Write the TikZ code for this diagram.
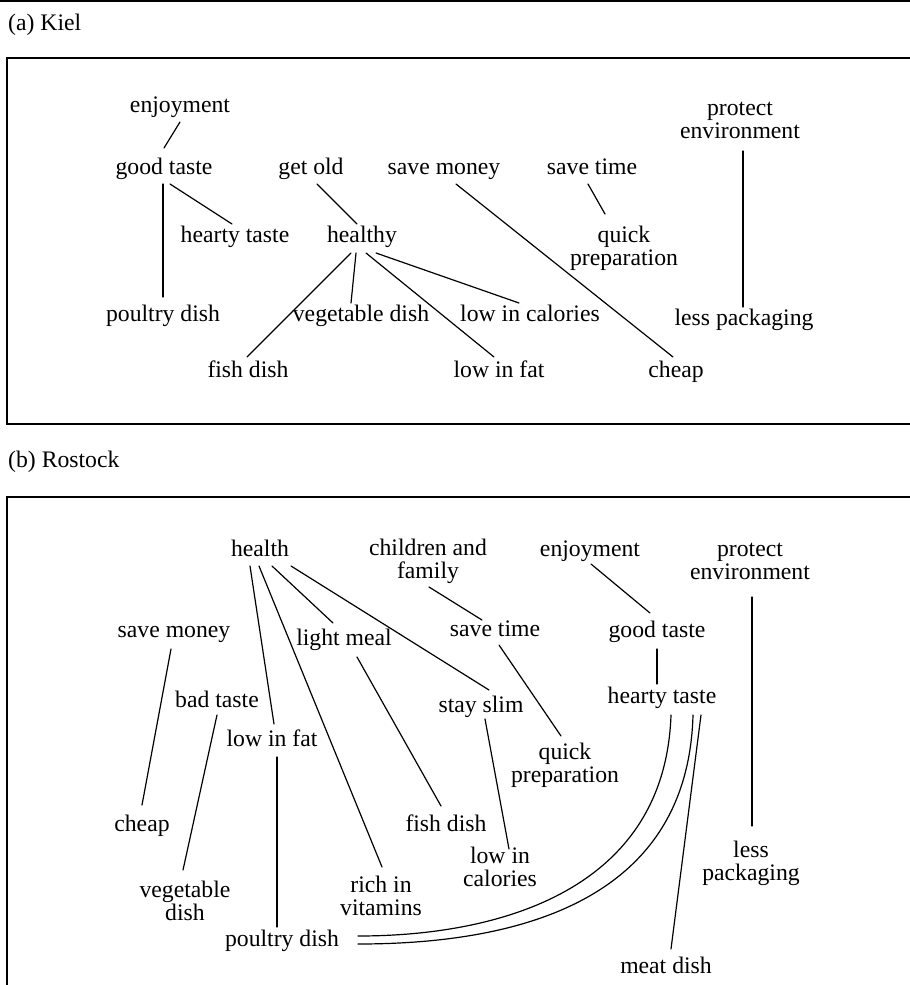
\documentclass[tikz,border=0pt]{standalone}
\usepackage{fontspec}
\setmainfont{Liberation Serif}
\usetikzlibrary{calc}
\begin{document}
\begin{tikzpicture}[x=1pt,y=-1pt,
  lbl/.style={inner sep=0pt, anchor=base, align=center,
    font=\fontsize{23.7}{23.5}\selectfont},
  link/.style={line width=1.2pt, line cap=round},
  frame/.style={line width=1.6pt}]
\useasboundingbox (0,0) rectangle (910,985);
\clip (0,0) rectangle (910,985);

% rules and frames
\draw[frame] (-5,1) -- (915,1);
\draw[frame] (915,58) -- (7,58) -- (7,424) -- (915,424);
\draw[frame] (915,497) -- (7,497) -- (7,990);

\node[lbl, anchor=base west] (capA) at (8,30) {(a) Kiel};
\node[lbl, anchor=base west] (capB) at (8,467) {(b) Rostock};

% ---------- (a) Kiel ----------
% (two-line labels are placed by the baseline of their last line)
\node[lbl] (kEnjoy)   at (180,112) {enjoyment};
\node[lbl] (kGood)    at (164,174) {good taste};
\node[lbl] (kOld)     at (311,174) {get old};
\node[lbl] (kMoney)   at (444,174) {save money};
\node[lbl] (kTime)    at (592,174) {save time};
\node[lbl] (kProtect) at (740,138.5) {protect\\environment};
\node[lbl] (kHearty)  at (235,242) {hearty taste};
\node[lbl] (kHealthy) at (362,242) {healthy};
\node[lbl] (kQuick)   at (624,265.5) {quick\\preparation};
\node[lbl] (kPoultry) at (163,321) {poultry dish};
\node[lbl] (kVeg)     at (361,321) {vegetable dish};
\node[lbl] (kCal)     at (530,321) {low in calories};
\node[lbl] (kLess)    at (744,325) {less packaging};
\node[lbl] (kFish)    at (248,377) {fish dish};
\node[lbl] (kFat)     at (499,377) {low in fat};
\node[lbl] (kCheap)   at (676,377) {cheap};

\draw[link] ($(kEnjoy.base)+(0,10)$)    -- ($(kGood.base)+(0,-26)$);
\draw[link] ($(kGood.base)+(-1,10)$)    -- ($(kPoultry.base)+(0,-24)$);
\draw[link] ($(kGood.base)+(6,10)$)     -- ($(kHearty.base)+(-3,-18)$);
\draw[link] ($(kOld.base)+(6,10)$)      -- ($(kHealthy.base)+(-5,-18)$);
\draw[link] ($(kHealthy.base)+(-11,11)$) -- ($(kFish.base)+(-1,-20)$);
\draw[link] ($(kHealthy.base)+(-6,11)$) -- ($(kVeg.base)+(-10,-18)$);
\draw[link] ($(kHealthy.base)+(4,11)$)  -- ($(kFat.base)+(-5,-20)$);
\draw[link] ($(kHealthy.base)+(14,11)$) -- ($(kCal.base)+(-11,-18)$);
\draw[link] ($(kMoney.base)+(12,10)$)   -- ($(kCheap.base)+(-3,-20)$);
\draw[link] ($(kTime.base)+(-4,10)$)    -- ($(kQuick.base)+(-19,-51.5)$);
\draw[link] ($(kProtect.base)+(3,12.5)$) -- ($(kLess.base)+(-1,-18)$);

% ---------- (b) Rostock ----------
\node[lbl] (rHealth)   at (260,556) {health};
\node[lbl] (rChildren) at (428,578.5) {children and\\family};
\node[lbl] (rEnjoy)    at (590,556) {enjoyment};
\node[lbl] (rProtect)  at (750,579.5) {protect\\environment};
\node[lbl] (rMoney)    at (174,637) {save money};
\node[lbl] (rLight)    at (344,645) {light meal};
\node[lbl] (rTime)     at (495,636) {save time};
\node[lbl] (rGood)     at (657,637) {good taste};
\node[lbl] (rBad)      at (217,707) {bad taste};
\node[lbl] (rSlim)     at (481,712) {stay slim};
\node[lbl] (rHearty)   at (662,703) {hearty taste};
\node[lbl] (rFat)      at (272,746) {low in fat};
\node[lbl] (rQuick)    at (565,782.5) {quick\\preparation};
\node[lbl] (rCheap)    at (142,831) {cheap};
\node[lbl] (rFish)     at (446,831) {fish dish};
\node[lbl] (rLowCal)   at (500,886.5) {low in\\calories};
\node[lbl] (rLess)     at (751,880.5) {less\\packaging};
\node[lbl] (rVeg)      at (185,920.5) {vegetable\\dish};
\node[lbl] (rRich)     at (381,915.5) {rich in\\vitamins};
\node[lbl] (rPoultry)  at (282,946) {poultry dish};
\node[lbl] (rMeat)     at (666,973) {meat dish};

\draw[link] ($(rHealth.base)+(-10,10)$) -- ($(rFat.base)+(2,-22)$);
\draw[link] ($(rHealth.base)+(-1,10)$)  -- ($(rRich.base)+(1,-48.5)$);
\draw[link] ($(rHealth.base)+(12,10)$)  -- ($(rLight.base)+(-11,-22)$);
\draw[link] ($(rHealth.base)+(31,10)$)  -- ($(rSlim.base)+(8,-22)$);
\draw[link] ($(rChildren.base)+(1,8.5)$) -- ($(rTime.base)+(-13,-16)$);
\draw[link] ($(rEnjoy.base)+(1,8)$)     -- ($(rGood.base)+(-7,-24)$);
\draw[link] ($(rGood.base)+(0,12)$)     -- ($(rHearty.base)+(-5,-19)$);
\draw[link] ($(rProtect.base)+(2,17.5)$) -- ($(rLess.base)+(1,-54.5)$);
\draw[link] ($(rMoney.base)+(-3,12)$)   -- ($(rCheap.base)+(0,-26)$);
\draw[link] ($(rBad.base)+(0,8)$)       -- ($(rVeg.base)+(-2,-50.5)$);
\draw[link] ($(rLight.base)+(13,12)$)   -- ($(rFish.base)+(-5,-25)$);
\draw[link] ($(rTime.base)+(4,9)$)      -- ($(rQuick.base)+(-4,-46.5)$);
\draw[link] ($(rSlim.base)+(4,7)$)      -- ($(rLowCal.base)+(9,-37.5)$);
\draw[link] ($(rFat.base)+(5,11)$)      -- ($(rPoultry.base)+(-5,-19)$);
\draw[link] ($(rHearty.base)+(39,12)$)  -- ($(rMeat.base)+(5,-24)$);
% the hearty taste -- poultry dish tie is drawn twice
\draw[link] ($(rHearty.base)+(9,12)$)
  .. controls ($(rHearty.base)+(3,187)$) and ($(rPoultry.base)+(218,-10)$)
  .. ($(rPoultry.base)+(76,-10)$);
\draw[link] ($(rHearty.base)+(31,12)$)
  .. controls ($(rHearty.base)+(26,197)$) and ($(rPoultry.base)+(238,-2)$)
  .. ($(rPoultry.base)+(76,-2)$);
\end{tikzpicture}
\end{document}
